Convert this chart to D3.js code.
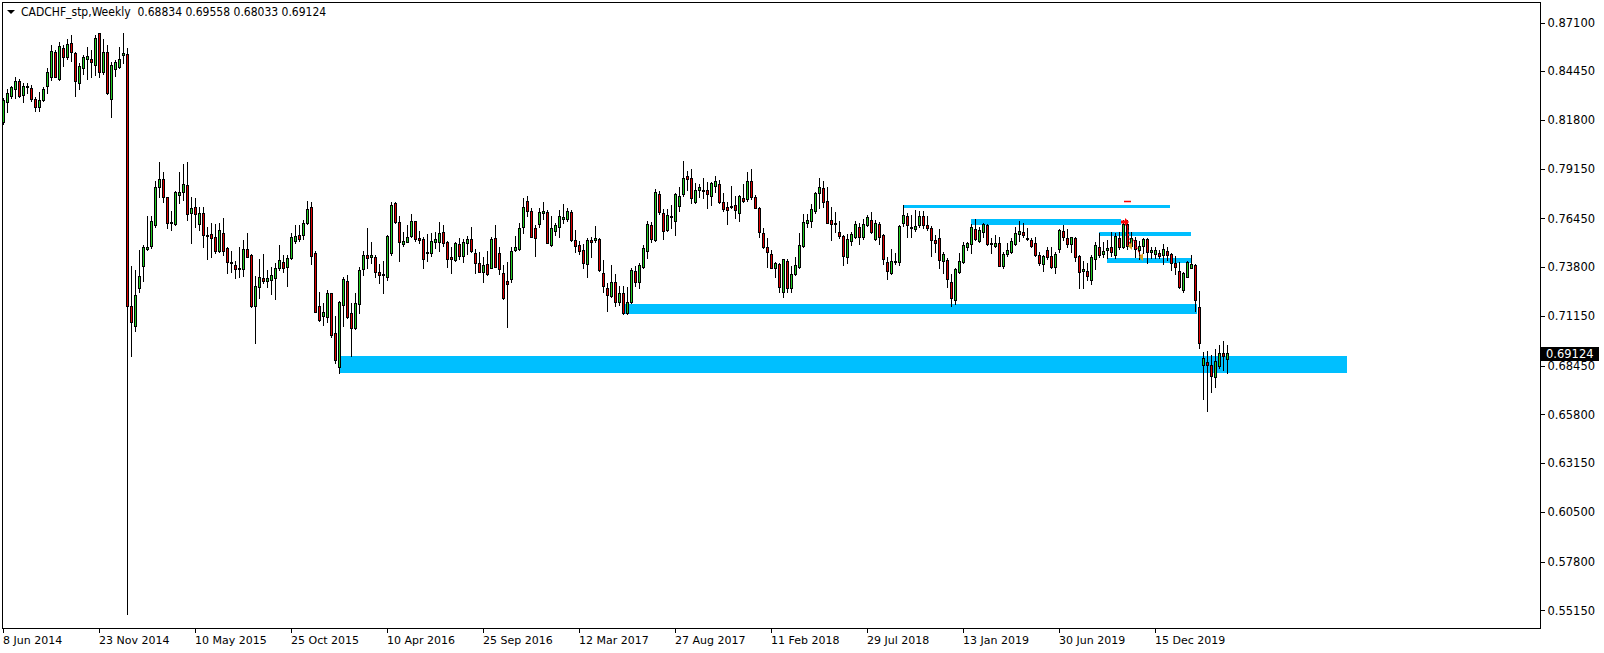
<!DOCTYPE html>
<html><head><meta charset="utf-8">
<script src="https://cdn.jsdelivr.net/npm/d3@7"></script>
<style>
body{margin:0;background:#fff;}
svg{display:block;}
</style>
</head><body>
<svg id="chart" width="1604" height="653"></svg>
<script>
// ---------- data ----------
const title = "CADCHF_stp,Weekly  0.68834 0.69558 0.68033 0.69124";
const lastPrice = 0.69124;

const open = [
0.8171,0.8280,0.8313,0.8347,0.8394,0.8316,0.8358,0.8352,0.8293,0.8253,0.8289,0.8365,0.8416,0.8548,0.8401,0.8570,0.8524,0.8597,0.8542,0.8380,
0.8465,0.8513,0.8510,0.8479,0.8651,0.8443,0.8551,0.8294,0.8457,0.8470,0.8532,0.8537,0.7170,0.7058,0.7266,0.7384,0.7478,0.7496,0.7607,0.7815,
0.7858,0.7760,0.7628,0.7614,0.7770,0.7788,0.7826,0.7674,0.7706,0.7616,0.7674,0.7556,0.7559,0.7544,0.7470,0.7564,0.7483,0.7407,0.7392,0.7369,
0.7369,0.7477,0.7445,0.7170,0.7273,0.7322,0.7304,0.7309,0.7320,0.7378,0.7407,0.7380,0.7428,0.7524,0.7553,0.7557,0.7618,0.7705,0.7456,0.7170,
0.7117,0.7112,0.7238,0.7021,0.6840,0.7173,0.7304,0.7130,0.7048,0.7179,0.7369,0.7445,0.7434,0.7434,0.7354,0.7340,0.7325,0.7456,0.7727,0.7624,
0.7504,0.7519,0.7552,0.7631,0.7539,0.7532,0.7456,0.7459,0.7519,0.7519,0.7570,0.7515,0.7434,0.7418,0.7504,0.7441,0.7514,0.7532,0.7456,0.7401,
0.7356,0.7396,0.7378,0.7537,0.7456,0.7347,0.7305,0.7314,0.7474,0.7479,0.7597,0.7738,0.7684,0.7591,0.7615,0.7673,0.7678,0.7501,0.7579,0.7600,
0.7644,0.7640,0.7682,0.7526,0.7499,0.7474,0.7396,0.7528,0.7526,0.7533,0.7347,0.7266,0.7226,0.7298,0.7193,0.7238,0.7133,0.7193,0.7360,0.7302,
0.7381,0.7470,0.7609,0.7528,0.7778,0.7673,0.7582,0.7653,0.7633,0.7714,0.7776,0.7876,0.7863,0.7736,0.7801,0.7800,0.7800,0.7769,0.7823,0.7832,
0.7734,0.7705,0.7714,0.7716,0.7676,0.7754,0.7749,0.7847,0.7760,0.7700,0.7564,0.7488,0.7450,0.7378,0.7396,0.7247,0.7414,0.7269,0.7342,0.7383,
0.7495,0.7618,0.7629,0.7687,0.7781,0.7809,0.7740,0.7637,0.7620,0.7571,0.7550,0.7434,0.7521,0.7542,0.7597,0.7546,0.7608,0.7635,0.7533,0.7613,
0.7555,0.7407,0.7347,0.7407,0.7410,0.7622,0.7658,0.7597,0.7590,0.7609,0.7658,0.7608,0.7591,0.7528,0.7537,0.7416,0.7419,0.7300,0.7200,0.7356,
0.7407,0.7488,0.7504,0.7586,0.7523,0.7573,0.7609,0.7510,0.7495,0.7510,0.7389,0.7450,0.7461,0.7504,0.7561,0.7571,0.7537,0.7528,0.7510,0.7445,
0.7396,0.7472,0.7441,0.7380,0.7479,0.7577,0.7539,0.7508,0.7537,0.7441,0.7360,0.7360,0.7311,0.7423,0.7488,0.7454,0.7472,0.7488,0.7447,0.7541,
0.7488,0.7617,0.7497,0.7528,0.7472,0.7497,0.7533,0.7465,0.7452,0.7457,0.7447,0.7470,0.7452,0.7401,0.7360,0.7258,0.7329,0.7378,0.7392,0.7164,
0.6846,0.6864,0.6847,0.6782,0.6844,0.6913,0.68834];
const high = [
0.8298,0.8347,0.8365,0.8412,0.8401,0.8380,0.8380,0.8370,0.8303,0.8334,0.8358,0.8461,0.8588,0.8561,0.8606,0.8588,0.8618,0.8642,0.8551,0.8488,
0.8533,0.8575,0.8561,0.8642,0.8651,0.8618,0.8588,0.8497,0.8506,0.8579,0.8651,0.8570,0.7384,0.7366,0.7474,0.7502,0.7659,0.7659,0.7846,0.7951,
0.7900,0.7764,0.7688,0.7795,0.7896,0.7941,0.7954,0.7764,0.7755,0.7710,0.7706,0.7596,0.7618,0.7613,0.7618,0.7646,0.7488,0.7468,0.7414,0.7488,
0.7528,0.7564,0.7450,0.7332,0.7425,0.7450,0.7365,0.7383,0.7401,0.7501,0.7447,0.7447,0.7564,0.7609,0.7609,0.7637,0.7740,0.7736,0.7468,0.7247,
0.7184,0.7256,0.7242,0.7117,0.7195,0.7329,0.7338,0.7184,0.7238,0.7383,0.7468,0.7595,0.7515,0.7447,0.7398,0.7416,0.7555,0.7736,0.7736,0.7658,
0.7573,0.7609,0.7669,0.7631,0.7579,0.7546,0.7559,0.7568,0.7573,0.7626,0.7609,0.7523,0.7492,0.7517,0.7539,0.7533,0.7550,0.7597,0.7479,0.7465,
0.7434,0.7470,0.7542,0.7609,0.7492,0.7392,0.7410,0.7492,0.7550,0.7622,0.7754,0.7767,0.7700,0.7609,0.7704,0.7734,0.7691,0.7658,0.7622,0.7691,
0.7722,0.7700,0.7691,0.7582,0.7523,0.7506,0.7537,0.7542,0.7604,0.7537,0.7419,0.7293,0.7392,0.7342,0.7278,0.7280,0.7275,0.7374,0.7387,0.7405,
0.7501,0.7631,0.7624,0.7803,0.7794,0.7695,0.7695,0.7718,0.7781,0.7818,0.7957,0.7904,0.7912,0.7836,0.7832,0.7863,0.7841,0.7845,0.7876,0.7854,
0.7781,0.7736,0.7821,0.7769,0.7772,0.7832,0.7899,0.7912,0.7772,0.7709,0.7591,0.7541,0.7474,0.7410,0.7401,0.7425,0.7423,0.7389,0.7437,0.7564,
0.7669,0.7669,0.7723,0.7790,0.7863,0.7850,0.7818,0.7705,0.7682,0.7633,0.7555,0.7561,0.7573,0.7633,0.7618,0.7642,0.7664,0.7682,0.7637,0.7627,
0.7559,0.7437,0.7479,0.7456,0.7609,0.7718,0.7673,0.7664,0.7691,0.7687,0.7687,0.7658,0.7604,0.7555,0.7586,0.7465,0.7428,0.7343,0.7374,0.7459,
0.7519,0.7519,0.7615,0.7642,0.7600,0.7618,0.7615,0.7537,0.7555,0.7542,0.7465,0.7510,0.7537,0.7597,0.7631,0.7618,0.7591,0.7541,0.7546,0.7465,
0.7447,0.7492,0.7488,0.7461,0.7586,0.7608,0.7589,0.7546,0.7546,0.7447,0.7416,0.7401,0.7447,0.7515,0.7568,0.7515,0.7528,0.7570,0.7568,0.7573,
0.7637,0.7637,0.7570,0.7542,0.7523,0.7537,0.7541,0.7492,0.7492,0.7474,0.7506,0.7492,0.7456,0.7441,0.7410,0.7356,0.7416,0.7447,0.7396,0.7251,
0.6920,0.6927,0.6904,0.6934,0.6958,0.6980,0.69558];
const low = [
0.8159,0.8226,0.8302,0.8298,0.8307,0.8280,0.8325,0.8285,0.8229,0.8231,0.8285,0.8325,0.8398,0.8412,0.8398,0.8474,0.8510,0.8501,0.8313,0.8347,
0.8430,0.8401,0.8416,0.8425,0.8416,0.8430,0.8320,0.8195,0.8419,0.8461,0.8492,0.5495,0.6899,0.7031,0.7248,0.7303,0.7474,0.7483,0.7601,0.7764,
0.7737,0.7592,0.7583,0.7610,0.7728,0.7746,0.7637,0.7511,0.7601,0.7583,0.7489,0.7424,0.7437,0.7459,0.7465,0.7447,0.7347,0.7352,0.7323,0.7325,
0.7332,0.7434,0.7166,0.6967,0.7215,0.7293,0.7271,0.7237,0.7209,0.7365,0.7356,0.7280,0.7423,0.7510,0.7524,0.7533,0.7613,0.7398,0.7137,0.7090,
0.7066,0.7085,0.7003,0.6862,0.6804,0.7063,0.7103,0.6898,0.7043,0.7130,0.7338,0.7374,0.7401,0.7329,0.7296,0.7238,0.7311,0.7447,0.7622,0.7416,
0.7495,0.7515,0.7546,0.7524,0.7510,0.7378,0.7416,0.7443,0.7483,0.7468,0.7495,0.7383,0.7347,0.7416,0.7427,0.7410,0.7452,0.7465,0.7351,0.7352,
0.7302,0.7338,0.7374,0.7380,0.7343,0.7209,0.7057,0.7302,0.7468,0.7474,0.7568,0.7658,0.7542,0.7443,0.7597,0.7644,0.7510,0.7495,0.7555,0.7542,
0.7618,0.7633,0.7524,0.7465,0.7452,0.7374,0.7329,0.7434,0.7519,0.7360,0.7247,0.7144,0.7220,0.7171,0.7175,0.7124,0.7126,0.7184,0.7278,0.7269,
0.7374,0.7432,0.7519,0.7524,0.7669,0.7532,0.7579,0.7591,0.7555,0.7687,0.7769,0.7800,0.7727,0.7731,0.7763,0.7754,0.7704,0.7718,0.7790,0.7731,
0.7687,0.7613,0.7700,0.7649,0.7631,0.7736,0.7742,0.7749,0.7700,0.7546,0.7483,0.7383,0.7374,0.7329,0.7247,0.7220,0.7247,0.7247,0.7338,0.7374,
0.7492,0.7600,0.7597,0.7673,0.7700,0.7709,0.7618,0.7528,0.7573,0.7537,0.7392,0.7405,0.7501,0.7537,0.7506,0.7532,0.7604,0.7564,0.7528,0.7506,
0.7398,0.7314,0.7343,0.7398,0.7392,0.7604,0.7546,0.7546,0.7579,0.7600,0.7591,0.7582,0.7443,0.7465,0.7374,0.7351,0.7275,0.7171,0.7182,0.7351,
0.7401,0.7474,0.7459,0.7528,0.7519,0.7542,0.7501,0.7456,0.7492,0.7387,0.7378,0.7441,0.7456,0.7501,0.7524,0.7546,0.7528,0.7492,0.7443,0.7392,
0.7361,0.7427,0.7376,0.7351,0.7465,0.7528,0.7492,0.7465,0.7416,0.7266,0.7269,0.7311,0.7289,0.7371,0.7437,0.7437,0.7428,0.7441,0.7428,0.7477,
0.7483,0.7479,0.7483,0.7437,0.7423,0.7456,0.7405,0.7428,0.7428,0.7428,0.7398,0.7419,0.7365,0.7343,0.7269,0.7247,0.7325,0.7374,0.7144,0.6940,
0.6665,0.6601,0.6704,0.6728,0.6835,0.6822,0.68033];
const close = [
0.8289,0.8325,0.8358,0.8392,0.8311,0.8365,0.8365,0.8293,0.8249,0.8289,0.8347,0.8439,0.8557,0.8416,0.8584,0.8524,0.8591,0.8548,0.8392,0.8474,
0.8524,0.8528,0.8497,0.8624,0.8439,0.8551,0.8329,0.8479,0.8495,0.8510,0.8542,0.7170,0.7085,0.7230,0.7335,0.7489,0.7489,0.7632,0.7815,0.7858,
0.7764,0.7619,0.7623,0.7788,0.7788,0.7833,0.7668,0.7701,0.7670,0.7674,0.7554,0.7554,0.7541,0.7470,0.7582,0.7470,0.7410,0.7401,0.7369,0.7376,
0.7477,0.7437,0.7170,0.7278,0.7325,0.7304,0.7320,0.7336,0.7374,0.7418,0.7374,0.7428,0.7542,0.7550,0.7535,0.7618,0.7696,0.7443,0.7139,0.7092,
0.7137,0.7238,0.7009,0.6876,0.7190,0.7314,0.7112,0.7048,0.7184,0.7365,0.7445,0.7428,0.7445,0.7354,0.7340,0.7343,0.7550,0.7716,0.7628,0.7519,
0.7523,0.7544,0.7631,0.7532,0.7528,0.7427,0.7463,0.7521,0.7533,0.7564,0.7510,0.7423,0.7427,0.7510,0.7443,0.7517,0.7532,0.7470,0.7405,0.7356,
0.7392,0.7342,0.7532,0.7383,0.7369,0.7215,0.7287,0.7466,0.7488,0.7591,0.7705,0.7687,0.7546,0.7541,0.7678,0.7687,0.7514,0.7591,0.7609,0.7656,
0.7651,0.7684,0.7526,0.7497,0.7470,0.7405,0.7528,0.7519,0.7541,0.7367,0.7280,0.7228,0.7298,0.7193,0.7242,0.7133,0.7193,0.7365,0.7302,0.7392,
0.7483,0.7613,0.7535,0.7787,0.7682,0.7579,0.7664,0.7656,0.7776,0.7767,0.7863,0.7857,0.7758,0.7800,0.7816,0.7792,0.7780,0.7836,0.7847,0.7736,
0.7696,0.7689,0.7713,0.7693,0.7767,0.7742,0.7847,0.7760,0.7704,0.7573,0.7488,0.7465,0.7378,0.7401,0.7275,0.7423,0.7266,0.7342,0.7390,0.7499,
0.7624,0.7635,0.7695,0.7781,0.7814,0.7736,0.7622,0.7617,0.7617,0.7552,0.7443,0.7532,0.7559,0.7613,0.7546,0.7613,0.7651,0.7573,0.7618,0.7546,
0.7423,0.7358,0.7416,0.7414,0.7604,0.7662,0.7609,0.7596,0.7606,0.7658,0.7609,0.7595,0.7528,0.7510,0.7419,0.7450,0.7314,0.7211,0.7371,0.7414,
0.7499,0.7510,0.7599,0.7532,0.7582,0.7613,0.7504,0.7509,0.7510,0.7389,0.7450,0.7474,0.7523,0.7564,0.7577,0.7555,0.7536,0.7497,0.7448,0.7401,
0.7441,0.7436,0.7380,0.7450,0.7582,0.7546,0.7506,0.7542,0.7437,0.7356,0.7371,0.7334,0.7434,0.7501,0.7447,0.7468,0.7485,0.7465,0.7550,0.7488,
0.7613,0.7495,0.7537,0.7479,0.7495,0.7533,0.7465,0.7474,0.7474,0.7441,0.7479,0.7447,0.7405,0.7383,0.7273,0.7351,0.7409,0.7396,0.7202,0.6970,
0.6885,0.6846,0.6791,0.6871,0.6913,0.6898,0.69124];

const firstWeek = "2014-06-08";
const priceTicks = [0.87100,0.84450,0.81800,0.79150,0.76450,0.73800,0.71150,0.68450,0.65800,0.63150,0.60500,0.57800,0.55150];
const timeTickBars = [0,24,48,72,96,120,144,168,192,216,240,264,288];
const timeTickLabels = ["8 Jun 2014","23 Nov 2014","10 May 2015","25 Oct 2015","10 Apr 2016","25 Sep 2016","12 Mar 2017","27 Aug 2017","11 Feb 2018","29 Jul 2018","13 Jan 2019","30 Jun 2019","15 Dec 2019"];

// supply/demand zones: start bar, end bar, top price, bottom price
const zoneStart  = [84, 155, 225, 242, 273.9, 275.9];
const zoneEnd    = [335.9, 298.6, 291.85, 279.4, 296.9, 296.9];
const zoneTop    = [0.68975, 0.71801, 0.77182, 0.76421, 0.75714, 0.74317];
const zoneBottom = [0.68067, 0.71274, 0.77035, 0.76111, 0.75497, 0.74046];

// trade markers (bar, price)
const tpDash = [280.25, 282.0, 0.77399];
const entryArrow = [281.0, 0.76258];
const exitMarks = [[281.75, 0.74953], [284.5, 0.74355]];
const tradeLines = [[281.0, 0.76258, 281.75, 0.74953], [282.6, 0.75300, 284.5, 0.74355]];

// ---------- layout ----------
const W = 1604, H = 653;
const frame = {l: 2, t: 2, r: 1540, b: 628};
const bullColor = "#22cc22", bearColor = "#dd0000", zoneColor = "#00bfff";
const FONT = "'DejaVu Sans', sans-serif";

const svg = d3.select("#chart");
svg.append("rect").attr("width", W).attr("height", H).attr("fill", "#fff");

const x = d3.scaleLinear().domain([0, 384]).range([3, 1539]);
const y = d3.scaleLinear().domain([0.5515, 0.871]).range([610.4, 22.5]);

const data = open.map((o, i) => ({i, o, h: high[i], l: low[i], c: close[i]}));

const plot = svg.append("g");
// zones (background)
plot.selectAll("rect.zone").data(zoneStart.map((s, k) => ({s, e: zoneEnd[k], t: zoneTop[k], b: zoneBottom[k]})))
  .join("rect").attr("class", "zone")
  .attr("x", d => Math.round(x(d.s)))
  .attr("width", d => Math.round(x(d.e)) - Math.round(x(d.s)))
  .attr("y", d => Math.round(y(d.t)))
  .attr("height", d => Math.max(2, Math.round(y(d.b)) - Math.round(y(d.t))))
  .attr("fill", zoneColor);

// wicks
plot.selectAll("line.wick").data(data).join("line").attr("class", "wick")
  .attr("x1", d => Math.round(x(d.i)) + 0.5).attr("x2", d => Math.round(x(d.i)) + 0.5)
  .attr("y1", d => Math.round(y(d.h))).attr("y2", d => Math.round(y(d.l)) + 1)
  .attr("stroke", "#000").attr("stroke-width", 1).attr("shape-rendering", "crispEdges");

// bodies
plot.selectAll("rect.body").data(data).join("rect").attr("class", "body")
  .attr("x", d => Math.round(x(d.i)) - 0.5)
  .attr("width", 2)
  .attr("y", d => Math.round(y(Math.max(d.o, d.c))) + 0.5)
  .attr("height", d => Math.max(1, Math.round(y(Math.min(d.o, d.c))) - Math.round(y(Math.max(d.o, d.c)))))
  .attr("fill", d => d.c >= d.o ? bullColor : bearColor)
  .attr("stroke", "#000").attr("stroke-width", 1).attr("shape-rendering", "crispEdges");

// trade markers
plot.append("line")
  .attr("x1", x(tpDash[0])).attr("x2", x(tpDash[1]))
  .attr("y1", Math.round(y(tpDash[2])) + 0.5).attr("y2", Math.round(y(tpDash[2])) + 0.5)
  .attr("stroke", "#ff0000").attr("stroke-width", 1.5);
plot.selectAll("line.trade").data(tradeLines).join("line").attr("class", "trade")
  .attr("x1", d => x(d[0])).attr("y1", d => y(d[1]))
  .attr("x2", d => x(d[2])).attr("y2", d => y(d[3]))
  .attr("stroke", "#ff0000").attr("stroke-width", 1).attr("stroke-dasharray", "2,2");
{
  const ax = x(entryArrow[0]), ay = y(entryArrow[1]);
  plot.append("path")
    .attr("d", `M${ax-6},${ay-1.5}L${ax-2},${ay-1.5}L${ax-2},${ay-4}L${ax+2},${ay}L${ax-2},${ay+4}L${ax-2},${ay+1.5}L${ax-6},${ay+1.5}Z`)
    .attr("fill", "#ff0000");
}
plot.selectAll("path.exit").data(exitMarks).join("path").attr("class", "exit")
  .attr("d", d => { const px = x(d[0]), py = y(d[1]); return `M${px-2},${py}L${px+2},${py-4}L${px+2},${py+4}Z`; })
  .attr("fill", "#daa520");

// frame
svg.append("rect")
  .attr("x", frame.l + 0.5).attr("y", frame.t + 0.5)
  .attr("width", frame.r - frame.l).attr("height", frame.b - frame.t)
  .attr("fill", "none").attr("stroke", "#000").attr("stroke-width", 1).attr("shape-rendering", "crispEdges");

// price axis
const yAxis = d3.axisRight(y).tickValues(priceTicks).tickFormat(d3.format(".5f")).tickSize(4).tickPadding(3);
const gy = svg.append("g").attr("transform", `translate(${frame.r + 0.5},0)`).call(yAxis);
gy.select(".domain").remove();
gy.selectAll(".tick line").attr("stroke", "#000").attr("shape-rendering", "crispEdges");
gy.selectAll(".tick text").attr("fill", "#000").attr("font-family", FONT).attr("font-size", 11.5);

// time axis
const xAxis = d3.axisBottom(x).tickValues(timeTickBars).tickFormat((d, k) => timeTickLabels[k]).tickSize(4).tickPadding(4);
const gx = svg.append("g").attr("transform", `translate(-0.5,${frame.b + 0.5})`).call(xAxis);
gx.select(".domain").remove();
gx.selectAll(".tick line").attr("stroke", "#000").attr("shape-rendering", "crispEdges");
gx.selectAll(".tick text").attr("fill", "#000").attr("font-family", FONT).attr("font-size", 11)
  .attr("text-anchor", "start").attr("dx", 0);

// last price label
const ly = y(lastPrice);
svg.append("rect").attr("x", frame.r + 1).attr("y", Math.round(ly) - 6).attr("width", 58).attr("height", 14).attr("fill", "#000");
svg.append("text").attr("x", frame.r + 6).attr("y", Math.round(ly) + 5)
  .attr("fill", "#fff").attr("font-family", FONT).attr("font-size", 11.5).text(d3.format(".5f")(lastPrice));

// title
svg.append("path").attr("d", "M7,10L15,10L11,14Z").attr("fill", "#000");
svg.append("text").attr("x", 21).attr("y", 16)
  .attr("font-family", "'DejaVu Sans Condensed', 'DejaVu Sans', sans-serif").attr("font-size", 12)
  .attr("fill", "#000").attr("xml:space", "preserve").style("white-space", "pre").text(title);
</script>
</body></html>
